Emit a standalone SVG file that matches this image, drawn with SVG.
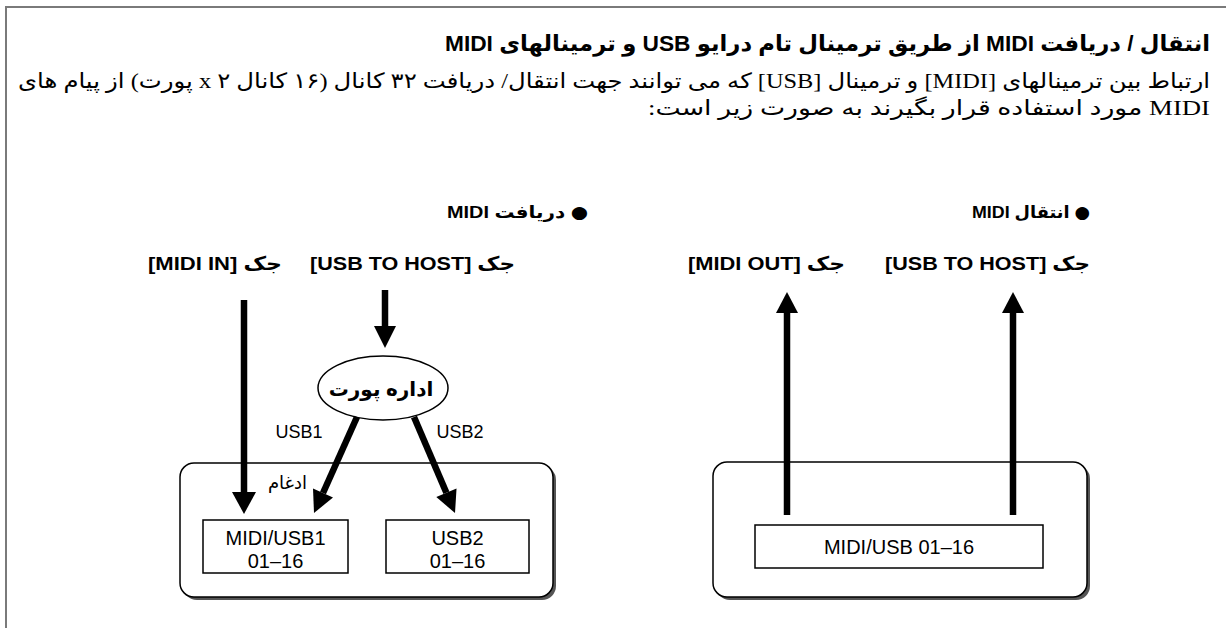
<svg xmlns="http://www.w3.org/2000/svg" width="1226" height="628" viewBox="0 0 1226 628">
<style>
.arb{font-family:"Liberation Sans","DejaVu Sans",sans-serif;font-weight:bold;direction:rtl;}
.ars{font-family:"Liberation Serif","DejaVu Sans",serif;direction:rtl;}
.lat{font-family:"Liberation Sans",Arial,sans-serif;}
.dot{font-family:"DejaVu Sans",sans-serif;}
.frame{stroke:#7a7a7a;stroke-width:2;fill:none;}
.panel{fill:#fff;stroke:#000;stroke-width:1.5;}
.shadow{fill:#555;}
.box{fill:#fff;stroke:#000;stroke-width:1.5;}
.shaft{stroke:#000;stroke-width:6.5;fill:none;}
.head{fill:#000;}
</style>
<rect width="1226" height="628" fill="#fff"/>
<g id="frame">
<path class="frame" d="M6,628 V7 H1226"/>
</g>
<g id="header">
<text class="arb" x="1210" y="51" font-size="22" text-anchor="start" textLength="765" lengthAdjust="spacingAndGlyphs">انتقال / دریافت MIDI از طریق ترمینال تام درایو USB و ترمینالهای MIDI</text>
<text class="ars" x="1210" y="88" font-size="21" text-anchor="start" textLength="1192" lengthAdjust="spacingAndGlyphs">ارتباط بین ترمینالهای [MIDI] و ترمینال [USB] که می توانند جهت انتقال/ دریافت ۳۲ کانال (۱۶ کانال x ۲ پورت) از پیام های</text>
<text class="ars" x="1210" y="115" font-size="21" text-anchor="start" textLength="562" lengthAdjust="spacingAndGlyphs">MIDI مورد استفاده قرار بگیرند به صورت زیر است:</text>
</g>
<g id="receive-title">
<text class="arb" x="588" y="218" font-size="17" text-anchor="start" textLength="141" lengthAdjust="spacingAndGlyphs"><tspan class="dot">●</tspan> دریافت MIDI</text>
</g>
<g id="transmit-title">
<text class="arb" x="1090" y="218" font-size="17" text-anchor="start" textLength="118" lengthAdjust="spacingAndGlyphs"><tspan class="dot">●</tspan> انتقال MIDI</text>
</g>
<g id="midi-in-label">
<text class="arb" x="282" y="270" font-size="19" text-anchor="start" textLength="134" lengthAdjust="spacingAndGlyphs">جک [MIDI IN]</text>
</g>
<g id="usb-host-label-rx">
<text class="arb" x="515" y="270" font-size="19" text-anchor="start" textLength="205" lengthAdjust="spacingAndGlyphs">جک [USB TO HOST]</text>
</g>
<g id="midi-out-label">
<text class="arb" x="845" y="270" font-size="19" text-anchor="start" textLength="157" lengthAdjust="spacingAndGlyphs">جک [MIDI OUT]</text>
</g>
<g id="usb-host-label-tx">
<text class="arb" x="1090" y="270" font-size="19" text-anchor="start" textLength="205" lengthAdjust="spacingAndGlyphs">جک [USB TO HOST]</text>
</g>
<g id="port-manager">
<ellipse cx="383" cy="388" rx="65" ry="32" fill="#fff" stroke="#000" stroke-width="1.5"/>
<text class="arb" x="381" y="396" font-size="20" text-anchor="middle">اداره پورت</text>
</g>
<g id="receive-panel">
<rect class="shadow" x="183" y="466" width="373" height="134" rx="14"/>
<rect class="panel" x="180" y="463" width="373" height="134" rx="14"/>
</g>
<g id="box-midi-usb1">
<rect class="box" x="203" y="520" width="145" height="53"/>
<text class="lat" x="275.5" y="545" font-size="20" text-anchor="middle">MIDI/USB1</text>
<text class="lat" x="275.5" y="568" font-size="20" text-anchor="middle">01–16</text>
</g>
<g id="box-usb2">
<rect class="box" x="386" y="520" width="143" height="53"/>
<text class="lat" x="457.5" y="545" font-size="20" text-anchor="middle">USB2</text>
<text class="lat" x="457.5" y="568" font-size="20" text-anchor="middle">01–16</text>
</g>
<g id="transmit-panel">
<rect class="shadow" x="716" y="465" width="374" height="135" rx="14"/>
<rect class="panel" x="713" y="462" width="374" height="135" rx="14"/>
</g>
<g id="box-midi-usb">
<rect class="box" x="755" y="525" width="288" height="43"/>
<text class="lat" x="899" y="554" font-size="20" text-anchor="middle">MIDI/USB 01–16</text>
</g>
<g id="connectors">
<line class="shaft" x1="244" y1="300" x2="244" y2="495"/>
<polygon class="head" points="232,492 256,492 244,514"/>
<line class="shaft" x1="385" y1="290" x2="385" y2="329"/>
<polygon class="head" points="374,326 396,326 385,348"/>
<line class="shaft" x1="357" y1="417" x2="323" y2="493"/>
<polygon class="head" points="333,497.5 313,488.4 314,513"/>
<line class="shaft" x1="414" y1="417" x2="446.4" y2="492.8"/>
<polygon class="head" points="456.5,488.5 436.3,497.1 455,513"/>
<line class="shaft" x1="787" y1="515" x2="787" y2="310"/>
<polygon class="head" points="776,313 798,313 787,292"/>
<line class="shaft" x1="1013" y1="515" x2="1013" y2="310"/>
<polygon class="head" points="1002,313 1024,313 1013,292"/>
<text class="lat" x="299" y="438" font-size="18" text-anchor="middle">USB1</text>
<text class="lat" x="460" y="438" font-size="18" text-anchor="middle">USB2</text>
<text class="ars" x="307" y="489" font-size="18" text-anchor="start">ادغام</text>
</g>
</svg>
